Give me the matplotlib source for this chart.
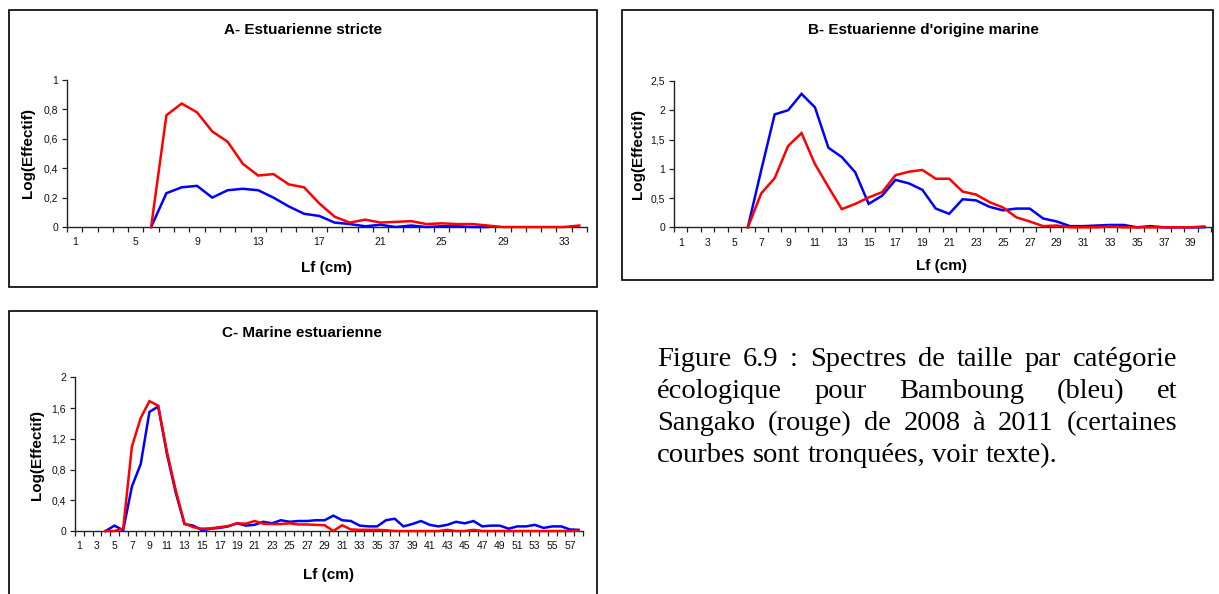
import matplotlib
matplotlib.use('Agg')
import matplotlib.pyplot as plt
import numpy as np
from matplotlib.patches import Rectangle
from matplotlib.ticker import FixedLocator, FixedFormatter, NullFormatter

# ---------------- data ----------------
# Panel A - Estuarienne stricte (categories 1..34)
A_ncat = 34
A_blue_start = 6
A_blue = [0, 0.23, 0.27, 0.28, 0.2, 0.25, 0.26, 0.25, 0.2, 0.14, 0.09, 0.075,
          0.03, 0.02, 0.005, 0.015, 0.0, 0.01, 0.0, 0.005, 0.005, 0.0, 0.0]
A_red_start = 6
A_red = [0, 0.76, 0.84, 0.78, 0.65, 0.58, 0.43, 0.35, 0.36, 0.29, 0.27, 0.16,
         0.07, 0.03, 0.05, 0.03, 0.035, 0.04, 0.02, 0.025, 0.02, 0.02, 0.01,
         0, 0, 0, 0, 0, 0.01]
A_yticks = [0, 0.2, 0.4, 0.6, 0.8, 1]
A_ylabels = ["0", "0,2", "0,4", "0,6", "0,8", "1"]
A_xlabels = [1, 5, 9, 13, 17, 21, 25, 29, 33]

# Panel B - Estuarienne d'origine marine (categories 1..40)
B_ncat = 40
B_blue_start = 6
B_blue = [0, 0.98, 1.93, 2.0, 2.28, 2.05, 1.36, 1.2, 0.94, 0.4, 0.54, 0.81,
          0.75, 0.64, 0.32, 0.23, 0.48, 0.46, 0.35, 0.29, 0.32, 0.32, 0.15,
          0.1, 0.02, 0.02, 0.03, 0.04, 0.04, 0, 0.02, 0, 0, 0, 0]
B_red_start = 6
B_red = [0, 0.58, 0.84, 1.39, 1.61, 1.08, 0.69, 0.31, 0.4, 0.51, 0.6, 0.89,
         0.95, 0.98, 0.83, 0.83, 0.61, 0.56, 0.43, 0.34, 0.17, 0.1, 0.02,
         0.03, 0, 0, 0, 0.015, 0, 0, 0, 0, 0, 0, 0.015]
B_yticks = [0, 0.5, 1, 1.5, 2, 2.5]
B_ylabels = ["0", "0,5", "1", "1,5", "2", "2,5"]
B_xlabels = list(range(1, 40, 2))

# Panel C - Marine estuarienne (categories 1..58)
C_ncat = 58
C_blue_start = 4
C_blue = [0, 0.07, 0.01, 0.58, 0.87, 1.55, 1.62, 1.0, 0.5, 0.09, 0.07, 0.01,
          0.03, 0.04, 0.06, 0.1, 0.07, 0.08, 0.12, 0.1, 0.14, 0.12, 0.13, 0.13,
          0.14, 0.14, 0.2, 0.14, 0.13, 0.07, 0.06, 0.06, 0.14, 0.16, 0.06,
          0.09, 0.13, 0.08, 0.06, 0.08, 0.12, 0.1, 0.13, 0.06, 0.07, 0.07,
          0.03, 0.06, 0.06, 0.08, 0.04, 0.06, 0.06, 0.02, 0.015]
C_red_start = 4
C_red = [0, 0, 0.03, 1.1, 1.47, 1.69, 1.63, 1.03, 0.53, 0.1, 0.05, 0.03,
         0.035, 0.05, 0.065, 0.1, 0.095, 0.13, 0.095, 0.09, 0.09, 0.1, 0.085,
         0.085, 0.08, 0.075, 0.0, 0.075, 0.02, 0.015, 0.015, 0.015, 0.01,
         0, 0, 0, 0, 0, 0, 0.015, 0, 0, 0.015, 0, 0, 0, 0, 0, 0, 0, 0, 0, 0,
         0, 0.005]
C_yticks = [0, 0.4, 0.8, 1.2, 1.6, 2]
C_ylabels = ["0", "0,4", "0,8", "1,2", "1,6", "2"]
C_xlabels = list(range(1, 58, 2))

titles = ["A- Estuarienne stricte", "B- Estuarienne d'origine marine",
          "C- Marine estuarienne"]
ylabel_text = "Log(Effectif)"
xlabel_text = "Lf (cm)"
caption_lines = [
    "Figure 6.9 : Spectres de taille par catégorie",
    "écologique pour Bamboung (bleu) et",
    "Sangako (rouge) de 2008 à 2011 (certaines",
    "courbes sont tronquées, voir texte).",
]

# ---------------- figure ----------------
W, H = 1219, 594
fig = plt.figure(figsize=(W / 100, H / 100), dpi=100)
fig.patch.set_facecolor('white')
SANS = ['Liberation Sans', 'DejaVu Sans']
SERIF = ['Liberation Serif', 'DejaVu Serif']


def fx(px):
    return px / W


def fy(py):
    return 1 - py / H


def frame(x0, y0, x1, y1):
    r = Rectangle((fx(x0), fy(y1)), fx(x1 - x0), (y1 - y0) / H,
                  transform=fig.transFigure, fill=False, edgecolor='black',
                  linewidth=1.2, zorder=0, clip_on=False)
    fig.add_artist(r)


def panel(ax_px, ncat, ymax, yticks, ylabels, xlabels,
          blue, blue_start, red, red_start):
    x0, y0, x1, y1 = ax_px
    ax = fig.add_axes([fx(x0), fy(y1), fx(x1 - x0), (y1 - y0) / H])
    ax.set_xlim(0.5, ncat + 0.5)
    ax.set_ylim(0, ymax)
    xb = np.arange(blue_start, blue_start + len(blue))
    xr = np.arange(red_start, red_start + len(red))
    ax.plot(xb, blue, color='#0000FF', lw=1.8, solid_joinstyle='miter', zorder=3, clip_on=False)
    ax.plot(xr, red, color='#FF0000', lw=1.8, solid_joinstyle='miter', zorder=4, clip_on=False)
    for s in ['top', 'right']:
        ax.spines[s].set_visible(False)
    for s in ['left', 'bottom']:
        ax.spines[s].set_color('#222222')
        ax.spines[s].set_linewidth(1.0)
    ax.xaxis.set_major_locator(FixedLocator(np.arange(0.5, ncat + 1, 1)))
    ax.xaxis.set_major_formatter(NullFormatter())
    ax.xaxis.set_minor_locator(FixedLocator(xlabels))
    ax.xaxis.set_minor_formatter(FixedFormatter([str(v) for v in xlabels]))
    ax.tick_params(axis='x', which='major', direction='out', length=3.5,
                   width=0.9, color='#222222')
    ax.tick_params(axis='x', which='minor', length=0, pad=7.5,
                   labelsize=7.5, labelcolor='#111111')
    ax.set_yticks(yticks)
    ax.set_yticklabels(ylabels)
    ax.tick_params(axis='y', direction='out', length=3.5, width=0.9,
                   color='#222222', labelsize=7.5, pad=3, labelcolor='#111111')
    for lab in ax.get_xticklabels(minor=True) + ax.get_yticklabels():
        lab.set_family(SANS)
    ax.set_facecolor('none')
    return ax


# frames
frame(9, 10, 597, 287)
frame(622, 10, 1213, 280)
frame(9, 311, 597, 610)

# panels
panel((67, 80, 587, 227), A_ncat, 1.0, A_yticks, A_ylabels, A_xlabels,
      A_blue, A_blue_start, A_red, A_red_start)
panel((674, 81, 1211, 227.3), B_ncat, 2.5, B_yticks, B_ylabels, B_xlabels,
      B_blue, B_blue_start, B_red, B_red_start)
panel((75, 377.3, 583, 531), C_ncat, 2.0, C_yticks, C_ylabels, C_xlabels,
      C_blue, C_blue_start, C_red, C_red_start)

bold = dict(family=SANS, fontweight='bold', fontsize=11, color='black')
# titles
fig.text(fx(303), fy(30), titles[0], ha='center', va='center', **bold)
fig.text(fx(923), fy(30), titles[1], ha='center', va='center', **bold)
fig.text(fx(302), fy(333), titles[2], ha='center', va='center', **bold)
# y labels
fig.text(fx(28), fy(153), ylabel_text, ha='center', va='center', rotation=90, **bold)
fig.text(fx(638), fy(154), ylabel_text, ha='center', va='center', rotation=90, **bold)
fig.text(fx(37), fy(455), ylabel_text, ha='center', va='center', rotation=90, **bold)
# x labels
fig.text(fx(327), fy(268), xlabel_text, ha='center', va='center', **bold)
fig.text(fx(942), fy(266), xlabel_text, ha='center', va='center', **bold)
fig.text(fx(329), fy(575), xlabel_text, ha='center', va='center', **bold)

# caption, justified
renderer = fig.canvas.get_renderer()
cap_left, cap_right = 657, 1177
baselines = [366, 398, 430, 462]
cap_kw = dict(family=SERIF, fontsize=20.5, color='black', va='baseline', ha='left')
tt = fig.text(0, 0, 'a a', **cap_kw)
t2 = fig.text(0, 0, 'aa', **cap_kw)
space_w = tt.get_window_extent(renderer).width - t2.get_window_extent(renderer).width
tt.remove()
t2.remove()
for i, line in enumerate(caption_lines):
    words = line.split(' ')
    texts = [fig.text(0, fy(baselines[i]), w, **cap_kw) for w in words]
    widths = [t.get_window_extent(renderer).width for t in texts]
    if i < len(caption_lines) - 1 and len(words) > 1:
        gap = (cap_right - cap_left - sum(widths)) / (len(words) - 1)
    else:
        gap = space_w
    x = cap_left
    for t, w in zip(texts, widths):
        t.set_x(fx(x))
        x += w + gap

fig.savefig('out.png', dpi=100, facecolor='white')
